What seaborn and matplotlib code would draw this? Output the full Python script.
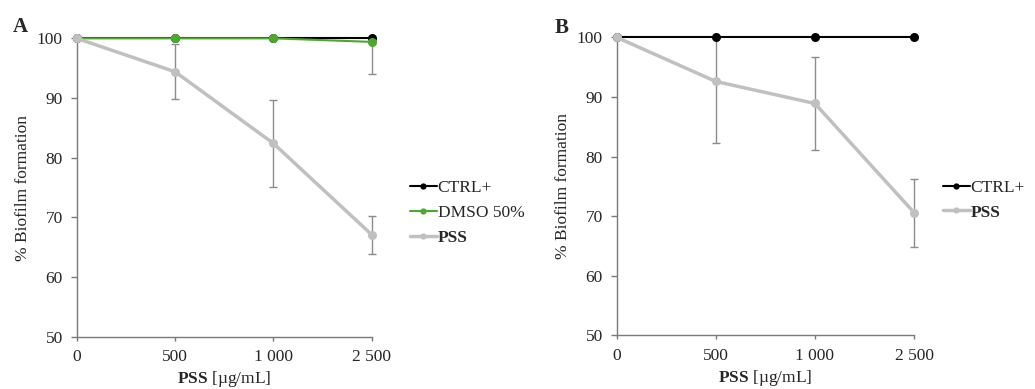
"""Biofilm formation vs PSS concentration, two panels."""

import matplotlib

matplotlib.use("Agg")

import matplotlib.pyplot as plt
import numpy as np
import pandas as pd
import seaborn as sns
from matplotlib.patches import Rectangle

sns.set_theme(style="white")
plt.rcParams["font.family"] = ["Liberation Serif", "DejaVu Serif"]
plt.rcParams["mathtext.fontset"] = "custom"
plt.rcParams["mathtext.rm"] = "Liberation Serif"
plt.rcParams["mathtext.bf"] = "Liberation Serif:bold"

concentrations = ["0", "500", "1 000", "2 500"]

# panel A
a_ctrl = [100, 100, 100, 100]
a_dmso = [100, 100, 100, 99.4]
a_dmso_err = [0, 0, 0, 5.4]
a_pss = [100, 94.4, 82.4, 67.1]
a_pss_err = [0, 4.6, 7.3, 3.2]

# panel B
b_ctrl = [100, 100, 100, 100]
b_pss = [100, 92.6, 88.9, 70.6]
b_pss_err = [0, 10.4, 7.8, 5.7]

COLORS = {"CTRL+": "#000000", "DMSO 50%": "#4ea72e", "PSS": "#c0c0c0"}
WIDTHS = {"CTRL+": 1.5, "DMSO 50%": 1.5, "PSS": 2.5}
SPINE = "#7a7a7a"
FS = 12.5


def draw_panel(ax, series, errors, leg_anchor):
    pos = np.arange(len(concentrations))
    frames = []
    for name, vals in series.items():
        frames.append(pd.DataFrame({"pos": pos, "value": vals, "series": name}))
    data = pd.concat(frames, ignore_index=True)

    # error bars: clipped at the top of the axes, but caps may overhang sides
    clip = Rectangle((-0.1, -0.1), 1.2, 1.1, transform=ax.transAxes,
                     facecolor="none", edgecolor="none")
    for name in series:
        if name in errors:
            eb = ax.errorbar(pos, series[name], yerr=errors[name], fmt="none",
                             ecolor="#8c8c8c", elinewidth=1, capsize=3,
                             capthick=1, zorder=1)
            for art in eb.lines[1] + eb.lines[2]:
                art.set_clip_path(clip)

    sns.lineplot(data=data, x="pos", y="value", hue="series",
                 palette=COLORS, marker="o", markersize=6.5,
                 markeredgewidth=0, ax=ax, legend=False, zorder=3)
    for line, name in zip(ax.lines[-len(series):], series):
        line.set_linewidth(WIDTHS[name])
        line.set_clip_on(False)

    ax.set_xlim(0, len(concentrations) - 1)
    ax.set_ylim(50, 100)
    ax.set_xticks(pos)
    ax.set_xticklabels(concentrations)
    ax.set_yticks(range(50, 101, 10))
    ax.tick_params(axis="y", direction="out", length=4, width=1,
                   color=SPINE, labelsize=FS, pad=6, left=True)
    ax.tick_params(axis="x", direction="out", length=3, width=1,
                   color=SPINE, labelsize=FS, pad=6, bottom=True)
    ax.set_xlabel(r"$\mathbf{PSS}$ [µg/mL]", fontsize=FS, labelpad=3)
    ax.set_ylabel("% Biofilm formation", fontsize=FS, labelpad=4)
    for side in ("top", "right"):
        ax.spines[side].set_visible(False)
    for side in ("left", "bottom"):
        ax.spines[side].set_color(SPINE)
        ax.spines[side].set_linewidth(1)
    ax.grid(False)

    handles = [plt.Line2D([], [], color=COLORS[n], lw=WIDTHS[n], marker="o",
                          markersize=4.5, markeredgewidth=0) for n in series]
    leg = ax.legend(handles, list(series), loc="center left",
                    bbox_to_anchor=leg_anchor, frameon=False, fontsize=FS,
                    handlelength=1.55, handletextpad=0.05,
                    labelspacing=0.5, borderaxespad=0)
    leg.get_texts()[-1].set_fontweight("bold")
    return leg


fig = plt.figure(figsize=(10.35, 3.89), dpi=100)
ax_a = fig.add_axes([0.0741, 0.1344, 0.285, 0.7671])
ax_b = fig.add_axes([0.5958, 0.138, 0.2873, 0.766])

draw_panel(ax_a, {"CTRL+": a_ctrl, "DMSO 50%": a_dmso, "PSS": a_pss},
           {"DMSO 50%": a_dmso_err, "PSS": a_pss_err}, (1.106, 0.415))
draw_panel(ax_b, {"CTRL+": b_ctrl, "PSS": b_pss}, {"PSS": b_pss_err},
           (1.073, 0.454))

fig.text(13 / 1035, 1 - 32 / 389, "A", fontsize=15, fontweight="bold")
fig.text(555 / 1035, 1 - 33 / 389, "B", fontsize=15, fontweight="bold")

fig.savefig("out.png", dpi=100)
plt.close(fig)
